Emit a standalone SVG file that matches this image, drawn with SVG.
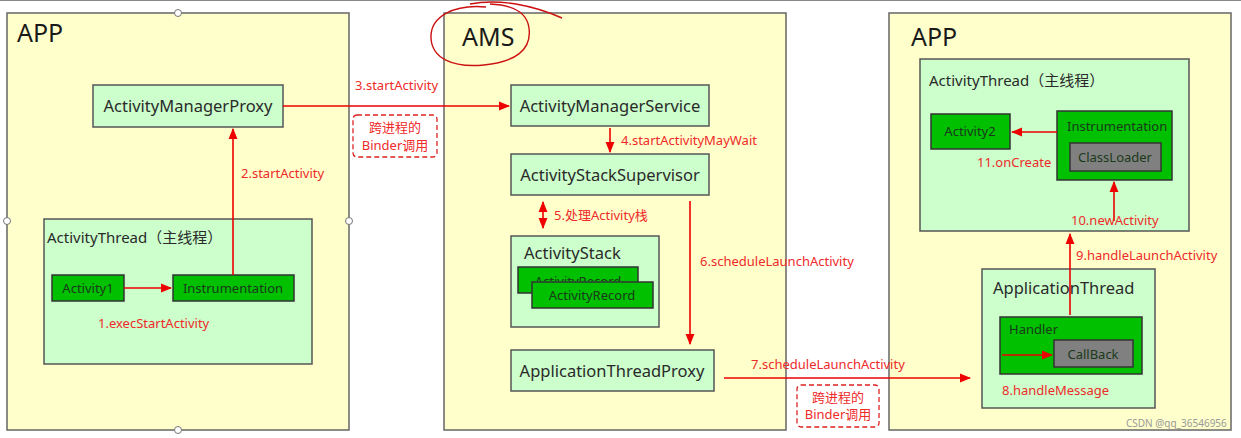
<svg xmlns="http://www.w3.org/2000/svg" width="1241" height="438" viewBox="0 0 1241 438">
<defs>
<style>
text{font-family:"Noto Sans","Noto Sans CJK SC",sans-serif;}
.big{fill:#1a1a1a;font-size:25px;}
.zone{fill:#ffffcc;stroke:#666;stroke-width:1.5;}
.lg{fill:#ccffcc;stroke:#555;stroke-width:1.5;}
.dg{fill:#00c000;stroke:#333;stroke-width:1.5;}
.gr{fill:#808080;stroke:#333;stroke-width:1.5;}
.t16{fill:#2a2a2a;font-size:16.5px;}
.t15{fill:#2a2a2a;font-size:15px;}
.t13{fill:#1a3a1a;font-size:13px;}
.lbl{fill:#ee2a2a;font-size:13px;}
.conn{stroke:#ee0000;stroke-width:1.6;fill:none;}
.dash{fill:none;stroke:#dd2222;stroke-width:1.3;stroke-dasharray:5,3;}
.handle{fill:#fff;stroke:#777;stroke-width:1;}
</style>
<marker id="ah" viewBox="0 0 10 10" refX="9" refY="5" markerWidth="7" markerHeight="7" orient="auto-start-reverse">
<path d="M0,1 L10,5 L0,9 z" fill="#ee0000"/>
</marker>
<clipPath id="backclip"><rect x="518" y="267" width="120" height="14"/></clipPath>
</defs>
<rect x="0" y="0" width="1241" height="438" fill="#ffffff"/>
<line x1="0" y1="0.5" x2="1241" y2="0.5" stroke="#888" stroke-width="1"/>

<g id="app-left">
<rect class="zone" x="7" y="13" width="342" height="417"/>
<text class="big" x="17" y="42">APP</text>
<circle class="handle" cx="178" cy="13" r="3.5"/>
<circle class="handle" cx="7" cy="221" r="3.5"/>
<circle class="handle" cx="349" cy="221" r="3.5"/>
<circle class="handle" cx="178" cy="430" r="3.5"/>
</g>
<g id="activity-manager-proxy">
<rect class="lg" x="93" y="85" width="190" height="42"/>
<text class="t16" x="188" y="112" text-anchor="middle">ActivityManagerProxy</text>
</g>
<g id="activity-thread-left">
<rect class="lg" x="44" y="219" width="268" height="145"/>
<text class="t15" x="47" y="243">ActivityThread（主线程）</text>
</g>
<g id="activity1">
<rect class="dg" x="52" y="275" width="72" height="26"/>
<text class="t13" x="88" y="293" text-anchor="middle">Activity1</text>
</g>
<g id="instrumentation-left">
<rect class="dg" x="173" y="275" width="121" height="26"/>
<text class="t13" x="233" y="293" text-anchor="middle">Instrumentation</text>
</g>

<g id="ams">
<rect class="zone" x="444" y="13" width="342" height="417"/>
<text class="big" x="462" y="46">AMS</text>
<path d="M486,7 C455,4 430,16 431,38 C432,58 452,68 484,65 C515,62 532,50 529,28 C527,12 512,5 490,4 M470,4 C500,-2 535,6 562,18" fill="none" stroke="#cc1111" stroke-width="1.4"/>
</g>
<g id="activity-manager-service">
<rect class="lg" x="511" y="85" width="198" height="41"/>
<text class="t16" x="610" y="112" text-anchor="middle">ActivityManagerService</text>
</g>
<g id="activity-stack-supervisor">
<rect class="lg" x="511" y="154" width="198" height="41"/>
<text class="t16" x="610" y="181" text-anchor="middle">ActivityStackSupervisor</text>
</g>
<g id="activity-stack">
<rect class="lg" x="511" y="236" width="148" height="91"/>
<text class="t16" x="524" y="259">ActivityStack</text>
</g>
<g id="activity-record-back">
<rect class="dg" x="518" y="267" width="120" height="26"/>
<text class="t13" x="578" y="286" text-anchor="middle" clip-path="url(#backclip)">ActivityRecord</text>
</g>
<g id="activity-record-front">
<rect class="dg" x="532" y="282" width="121" height="26"/>
<text class="t13" x="592" y="300" text-anchor="middle">ActivityRecord</text>
</g>
<g id="application-thread-proxy">
<rect class="lg" x="511" y="350" width="203" height="41"/>
<text class="t16" x="612" y="377" text-anchor="middle">ApplicationThreadProxy</text>
</g>

<g id="app-right">
<rect class="zone" x="889" y="13" width="342" height="417"/>
<text class="big" x="911" y="46">APP</text>
<text x="1126" y="427" fill="#999" font-size="10">CSDN @qq_36546956</text>
</g>
<g id="activity-thread-right">
<rect class="lg" x="920" y="59" width="269" height="172"/>
<text class="t15" x="929" y="86">ActivityThread（主线程）</text>
</g>
<g id="activity2">
<rect class="dg" x="931" y="114" width="79" height="35"/>
<text class="t13" x="970" y="136" text-anchor="middle">Activity2</text>
</g>
<g id="instrumentation-right">
<rect class="dg" x="1057" y="111" width="115" height="69"/>
<text class="t13" x="1067" y="131">Instrumentation</text>
</g>
<g id="class-loader">
<rect class="gr" x="1070" y="143" width="91" height="28"/>
<text class="t13" x="1115" y="162" text-anchor="middle" fill="#333">ClassLoader</text>
</g>
<g id="application-thread">
<rect class="lg" x="982" y="269" width="173" height="139"/>
<text class="t16" x="993" y="294">ApplicationThread</text>
</g>
<g id="handler">
<rect class="dg" x="1000" y="317" width="142" height="57"/>
<text class="t13" x="1009" y="334">Handler</text>
</g>
<g id="callback">
<rect class="gr" x="1054" y="340" width="79" height="27"/>
<text class="t13" x="1093" y="359" text-anchor="middle" fill="#333">CallBack</text>
</g>

<g id="connectors">
<line class="conn" x1="124" y1="288" x2="171" y2="288" marker-end="url(#ah)"/>
<text class="lbl" x="98" y="328">1.execStartActivity</text>
<line class="conn" x1="233" y1="275" x2="233" y2="129" marker-end="url(#ah)"/>
<text class="lbl" x="241" y="178">2.startActivity</text>
<line class="conn" x1="283" y1="106" x2="509" y2="106" marker-end="url(#ah)"/>
<text class="lbl" x="355" y="90">3.startActivity</text>
<rect class="dash" x="353" y="115" width="84" height="42" rx="4"/>
<text class="lbl" x="395" y="132" text-anchor="middle">跨进程的</text>
<text class="lbl" x="395" y="150" text-anchor="middle">Binder调用</text>
<line class="conn" x1="610" y1="128" x2="610" y2="152" marker-end="url(#ah)"/>
<text class="lbl" x="621" y="145">4.startActivityMayWait</text>
<line class="conn" x1="543" y1="202" x2="543" y2="228" marker-start="url(#ah)" marker-end="url(#ah)"/>
<text class="lbl" x="554" y="220">5.处理Activity栈</text>
<line class="conn" x1="690" y1="201" x2="690" y2="344" marker-end="url(#ah)"/>
<text class="lbl" x="700" y="266">6.scheduleLaunchActivity</text>
<line class="conn" x1="724" y1="378" x2="970" y2="378" marker-end="url(#ah)"/>
<text class="lbl" x="751" y="369">7.scheduleLaunchActivity</text>
<rect class="dash" x="797" y="385" width="82" height="42" rx="4"/>
<text class="lbl" x="838" y="402" text-anchor="middle">跨进程的</text>
<text class="lbl" x="838" y="419" text-anchor="middle">Binder调用</text>
<line class="conn" x1="1002" y1="355" x2="1052" y2="355" marker-end="url(#ah)"/>
<text class="lbl" x="1002" y="395">8.handleMessage</text>
<line class="conn" x1="1070" y1="315" x2="1070" y2="234" marker-end="url(#ah)"/>
<text class="lbl" x="1076" y="260">9.handleLaunchActivity</text>
<line class="conn" x1="1114" y1="221" x2="1114" y2="182" marker-end="url(#ah)"/>
<text class="lbl" x="1071" y="225">10.newActivity</text>
<line class="conn" x1="1057" y1="132" x2="1012" y2="132" marker-end="url(#ah)"/>
<text class="lbl" x="977" y="167">11.onCreate</text>
</g>
</svg>
